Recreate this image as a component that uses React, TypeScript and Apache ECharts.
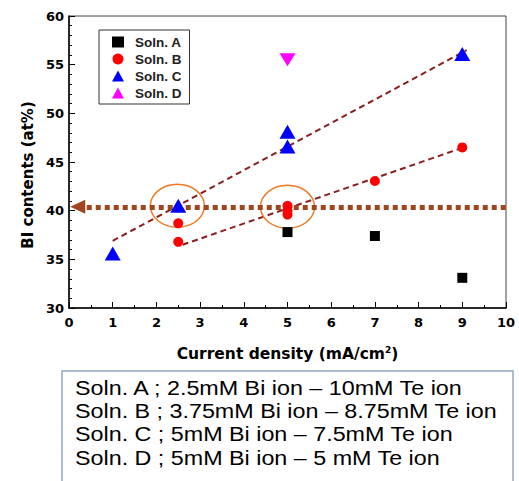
import React, { useEffect, useRef } from "react";
import * as echarts from "echarts";

const solnA: number[][] = [[5, 37.8], [7, 37.4], [9, 33.1]];
const solnB: number[][] = [[2.5, 38.7], [2.5, 36.8], [5, 40.5], [5, 40.0], [5, 39.6], [7, 43.05], [9, 46.5]];
const solnC: number[][] = [[1, 35.6], [2.5, 40.5], [5, 48.1], [5, 46.6], [9, 56.1]];
const solnD: number[][] = [[5, 55.5]];
const trendC: number[][] = [[1, 36.9], [9.1, 56.5]];
const trendB: number[][] = [[2.6, 36.5], [8.9, 46.3]];
const level: number[][] = [[0.2, 40.4], [10, 40.4]];
const circled: number[][] = [[2.48, 40.5], [5.0, 40.4]];
const xTicks = [0, 10, 1];
const yTicks = [30, 60, 5];
const notes: string[] = [
  "Soln. A ; 2.5mM Bi ion \u2013 10mM Te ion",
  "Soln. B ; 3.75mM Bi ion \u2013 8.75mM Te ion",
  "Soln. C ; 5mM Bi ion \u2013 7.5mM Te ion",
  "Soln. D ; 5mM Bi ion \u2013 5 mM Te ion",
];

const axisFont = { fontFamily: "DejaVu Sans", fontWeight: "bold" as const, fontSize: 13, color: "#000" };

export default function App() {
  const ref = useRef<HTMLDivElement>(null);
  useEffect(() => {
    if (!ref.current) return;
    const chart = echarts.init(ref.current, undefined, { renderer: "svg" });
    const tickStyle = { show: true, inside: true, length: 6, lineStyle: { color: "#000", width: 1 } };
    const minorStyle = { show: true, length: 3, lineStyle: { color: "#000", width: 1 } };
    chart.setOption({
      animation: false,
      grid: { left: 69, top: 16, width: 437, height: 292, show: true, borderColor: "#444", borderWidth: 1 },
      xAxis: {
        type: "value", min: xTicks[0], max: xTicks[1], interval: xTicks[2],
        axisLine: { lineStyle: { color: "#000", width: 1.5 } },
        axisTick: tickStyle, minorTick: { ...minorStyle, splitNumber: 2 },
        splitLine: { show: false },
        axisLabel: { ...axisFont, margin: 8 },
        name: "Current density (mA/cm{sup|2})", nameLocation: "middle", nameGap: 37,
        nameTextStyle: {
          fontFamily: "DejaVu Sans", fontWeight: "bold", fontSize: 15.5, color: "#000",
          rich: { sup: { fontFamily: "DejaVu Sans", fontWeight: "bold", fontSize: 9, verticalAlign: "top", padding: [0, 0, 9, 0] } },
        },
      },
      yAxis: {
        type: "value", min: yTicks[0], max: yTicks[1], interval: yTicks[2],
        axisLine: { show: true, lineStyle: { color: "#000", width: 1.5 } },
        axisTick: tickStyle, minorTick: { ...minorStyle, splitNumber: 5 },
        splitLine: { show: false },
        axisLabel: { ...axisFont, margin: 5 },
      },
      legend: {
        orient: "vertical", left: 99, top: 30, padding: [5, 8, 4, 13],
        borderColor: "#333", borderWidth: 1, backgroundColor: "#fff",
        itemWidth: 12, itemHeight: 11, itemGap: 3,
        textStyle: { fontFamily: "Liberation Sans", fontWeight: "bold", fontSize: 13.5, color: "#222", padding: [0, 0, 0, 6] },
        data: ["Soln. A", "Soln. B", "Soln. C", "Soln. D"],
      },
      graphic: [
        {
          type: "text", x: 28, y: 175, rotation: Math.PI / 2,
          style: { text: "BI contents (at%)", fontFamily: "DejaVu Sans", fontWeight: "bold", fontSize: 15, fill: "#000", align: "center", verticalAlign: "middle" },
        },
        {
          type: "rect", shape: { x: 62, y: 371, width: 451, height: 130 },
          style: { fill: "#fff", stroke: "#8FA8C4", lineWidth: 1.5 },
        },
        ...notes.map((t, i) => ({
          type: "text", x: 75, y: 388 + i * 23.2, scaleX: 1.11,
          style: { text: t, fontFamily: "Liberation Sans", fontSize: 21, fill: "#000", verticalAlign: "middle" },
        })),
      ],
      series: [
        {
          type: "line", data: trendC, showSymbol: false, silent: true,
          lineStyle: { color: "#8B1E1E", width: 2, type: [6, 4] }, z: 1,
        },
        {
          type: "line", data: trendB, showSymbol: false, silent: true,
          lineStyle: { color: "#8B1E1E", width: 2, type: [6, 4] }, z: 1,
        },
        {
          type: "line", data: [], silent: true,
          markLine: {
            silent: true, symbol: ["triangle", "none"], symbolSize: [14, 15], label: { show: false },
            lineStyle: { color: "#A0461E", width: 5, type: [5, 4], cap: "butt", opacity: 1 },
            itemStyle: { color: "#A84A1C" },
            data: [[{ coord: level[0] }, { coord: level[1] }]],
          },
          z: 2,
        },
        {
          type: "custom", data: circled, silent: true, z: 3,
          renderItem: (params: any, api: any) => {
            const p = api.coord([api.value(0), api.value(1)]);
            return { type: "ellipse", shape: { cx: p[0], cy: p[1], rx: 27, ry: 21.5 }, style: { fill: "none", stroke: "#F07A22", lineWidth: 1.5 } };
          },
        },
        { name: "Soln. A", type: "scatter", data: solnA, symbol: "rect", symbolSize: 10, itemStyle: { color: "#000", opacity: 1 }, z: 5 },
        { name: "Soln. B", type: "scatter", data: solnB, symbol: "circle", symbolSize: 10, itemStyle: { color: "#FF0000", opacity: 1 }, z: 5 },
        { name: "Soln. C", type: "scatter", data: solnC, symbol: "triangle", symbolSize: [16, 14], itemStyle: { color: "#0000FF", opacity: 1 }, z: 5 },
        { name: "Soln. D", type: "scatter", data: solnD, symbol: "triangle", symbolRotate: 180, symbolSize: [16, 13], itemStyle: { color: "#FF00FF", opacity: 1 }, z: 5 },
      ],
    });
    return () => chart.dispose();
  }, []);
  return <div ref={ref} style={{ width: 519, height: 481, position: "absolute", left: 0, top: 0 }} />;
}
